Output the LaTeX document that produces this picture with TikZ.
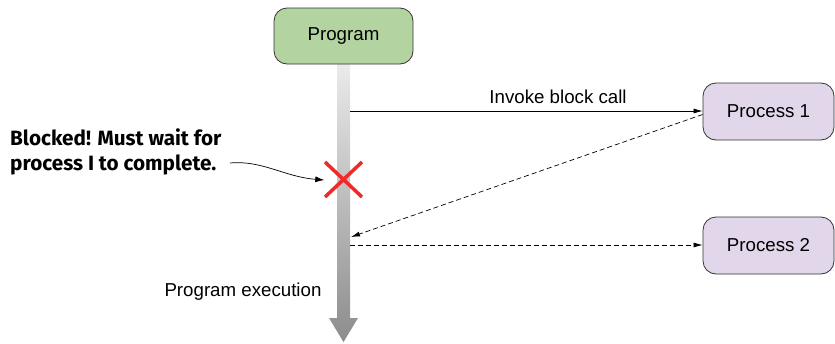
\documentclass[tikz,border=0pt]{standalone}
\usepackage{fontspec}
\setmainfont{Liberation Sans}
\newfontfamily\calloutfont{Fira Sans}
\usetikzlibrary{arrows.meta,shapes.misc}
\definecolor{pgreen}{HTML}{B3D4A0}
\definecolor{pviolet}{HTML}{E1D6EA}
\definecolor{xred}{HTML}{EE2A2A}
\begin{document}
\begin{tikzpicture}[x=1pt,y=-1pt,
  box/.style={draw=black!80,line width=0.8pt,rounded corners=13pt,inner sep=0pt,font=\fontsize{18.7}{20}\selectfont},
  conn/.style={line width=0.7pt,-{Latex[length=9pt,width=5pt]}},
  dconn/.style={conn,dash pattern=on 5pt off 3pt}]
\useasboundingbox (0,0) rectangle (835,343);
% program execution bar
\shade[top color=black!8,bottom color=black!45] (337,64) -- (350,64) -- (350,318) -- (358,318) -- (343.5,342) -- (329,318) -- (337,318) -- cycle;
\node[box,fill=pgreen,minimum width=139pt,minimum height=56pt] (prog) at (343.5,36) {Program};
\node[box,fill=pviolet,minimum width=131pt,minimum height=57pt] (p1) at (768.5,111.5) {Process 1};
\node[box,fill=pviolet,minimum width=131pt,minimum height=57pt] (p2) at (768.5,245.5) {Process 2};
\coordinate (a1) at (350,111);
\coordinate (a2) at (351,237);
\coordinate (a3) at (350,245);
\coordinate (p1a) at (p1.west |- a1);
\coordinate (p1b) at ([yshift=-3pt]p1.west);
\coordinate (p2a) at (p2.west |- a3);
\draw[conn] (a1) -- node[pos=0.59,above=4pt,font=\fontsize{18.7}{20}\selectfont]{Invoke block call} (p1a);
\draw[dconn] (p1b) -- (a2);
\draw[dconn] (a3) -- (p2a);
% red cross
\node[minimum width=30pt,minimum height=34pt,inner sep=0pt] (x) at (343.5,180) {};
\draw[xred,line width=3.5pt] (325,162) -- (362,197) (362,162) -- (325,197);
% callout
\node[anchor=north west,align=left,inner sep=0pt,font=\calloutfont\bfseries\fontsize{20.7}{25}\selectfont] (blk) at (10,129) {Blocked! Must wait for\\process I to complete.};
\coordinate (c1) at (230,163);
\draw[line width=0.7pt,-{Latex[length=9pt,width=6pt]}] (c1) .. controls (262,160) and (285,177) .. ([xshift=-4pt]x.west);
\node[font=\fontsize{18.7}{20}\selectfont] (pe) at (243,292) {Program execution};
\end{tikzpicture}
\end{document}
